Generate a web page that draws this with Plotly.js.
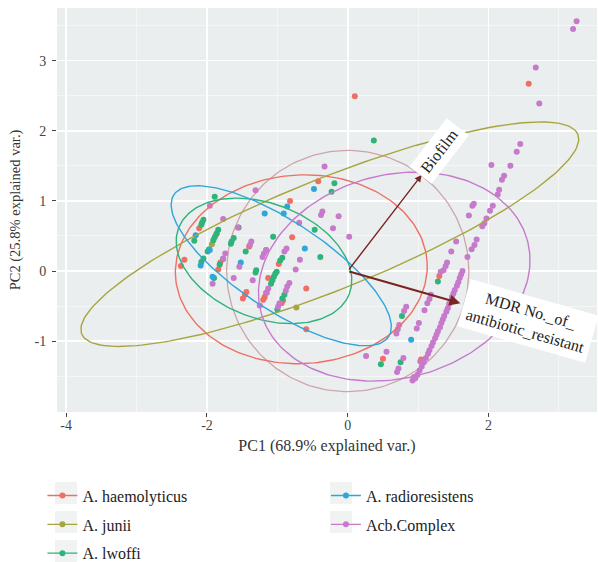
<!DOCTYPE html>
<html><head><meta charset="utf-8">
<script src="https://cdn.plot.ly/plotly-3.0.1.min.js"></script>
<style>html,body{margin:0;padding:0;background:#fff}#chart{width:598px;height:562px}</style>
</head><body><div id="chart"></div>
<script>
// ---- data ----
const groupNames = ['A. haemolyticus','A. junii','A. lwoffi','A. radioresistens','Acb.Complex'];
const groupColors = ['#EE6F63','#A7A53F','#2FB37B','#2EA6DA','#C77ACB'];

const haemX = [0.10,2.57,-0.42,-0.82,-0.79,-0.59,-0.59,-2.11,-1.87,-2.32,-2.37,-1.84,-1.81,-1.40,-0.98,-1.44,-1.46,-1.49,-1.18,-1.20,-1.16,-0.92,-0.94,-1.13,-1.16,1.30,0.50,1.04];
const haemY = [2.49,2.67,1.28,1.00,0.48,-0.25,-0.83,0.61,0.52,0.16,0.07,0.02,0.12,0.35,0.10,-0.30,-0.34,-0.39,-0.37,-0.41,-0.31,-0.42,-0.46,-0.10,0.30,-0.07,-1.25,-1.26];

const juniiX = [-1.93,-0.73];
const juniiY = [0.38,-0.52];

const lwoffiX = [0.37,-0.19,-0.23,-1.89,-2.05,-2.07,-2.08,-1.84,-1.86,-1.89,-1.91,-2.18,-1.97,-1.99,-2.05,-2.08,-1.90,-1.55,-1.62,-1.65,-1.66,-1.45,-1.77,-1.82,-1.30,-1.31,-1.01,-1.03,-1.05,-1.07,-1.09,-1.06,-0.47,-0.39,-0.93,-0.96,-0.90,-0.93,-1.00,1.28,0.77,0.47,0.75];
const lwoffiY = [1.86,1.25,1.13,1.06,0.73,0.69,0.66,0.59,0.54,0.48,0.44,0.43,0.31,0.28,0.18,0.13,-0.10,0.62,0.47,0.42,0.39,0.28,0.17,0.09,0.01,-0.02,-0.01,-0.04,-0.08,-0.13,-0.18,0.49,0.59,0.20,0.19,0.15,-0.34,-0.39,-0.55,-0.15,-0.64,-1.33,-1.30];

const radioX = [-0.48,-1.18,-0.91,-0.86,-0.61,-2.16,-1.52,-1.96,-2.09,0.90,-1.92];
const radioY = [1.17,0.82,0.82,0.92,0.32,0.51,0.12,0.30,0.08,-0.98,-0.08];

const acbX = [3.25,3.20,2.67,2.72,2.45,2.40,2.04,2.31,2.22,2.19,2.15,2.13,1.79,1.77,2.06,2.02,1.72,1.97,1.94,1.91,1.83,1.80,1.76,1.54,1.47,1.70,
  1.41,1.39,1.36,1.32,1.18,1.16,1.13,1.09,1.01,0.98,
  1.63,1.61,1.59,1.57,1.55,1.52,1.50,1.48,1.46,1.44,1.42,1.40,1.37,1.35,1.33,1.31,1.28,1.26,1.24,1.21,1.19,1.16,1.14,1.11,1.08,1.05,1.02,0.99,0.96,
  0.83,0.80,0.73,0.71,0.69,0.55,0.26,0.79,0.72,0.70,1.03,0.94,0.92,
  -0.33,-0.36,-0.38,-0.13,-0.69,-0.21,0.02,-0.87,-0.90,-1.16,-1.19,-1.21,-0.68,-0.74,-0.83,-0.86,-0.88,-1.13,-1.15,-0.97,-0.99,-1.25,
  -1.96,-1.31,-1.77,-1.56,-1.37,-1.39,-1.74,-1.77,-1.54,-1.62,-1.35,-1.92];
const acbY = [3.56,3.45,2.90,2.39,1.81,1.70,1.51,1.50,1.36,1.30,1.16,1.09,0.96,0.93,0.93,0.86,0.79,0.75,0.68,0.64,0.45,0.37,0.31,0.42,0.28,0.20,
  0.12,0.07,0.01,-0.01,-0.34,-0.40,-0.46,-0.56,-0.74,-0.82,
  0.00,-0.05,-0.10,-0.16,-0.21,-0.27,-0.32,-0.37,-0.43,-0.47,-0.53,-0.58,-0.64,-0.69,-0.74,-0.80,-0.86,-0.91,-0.96,-1.02,-1.07,-1.13,-1.18,-1.24,-1.30,-1.36,-1.42,-1.48,-1.53,
  -0.51,-0.57,-0.77,-0.83,-0.89,-1.15,-1.21,-1.24,-1.39,-1.44,-1.29,-1.51,-1.56,
  1.49,0.85,0.80,0.78,0.69,0.61,0.49,0.32,0.28,0.30,0.25,0.20,0.16,0.02,-0.17,-0.22,-0.28,-0.25,-0.31,-0.46,-0.51,-0.49,
  0.93,1.15,0.74,0.62,0.42,0.37,0.25,0.18,0.06,-0.10,-0.13,-0.18];

// ellipse parameters per group (centre, semi-axes, rotation in degrees)
const ellCx = [-0.66,-0.255,-1.19,-0.945,0.66];
const ellCy = [0.025,0.525,0.145,0.075,-0.08];
const ellA  = [1.79,3.80,1.30,1.83,1.96];
const ellB  = [1.345,0.79,0.816,0.63,1.448];
const ellAngle = [3,22,-21.3,-33.6,15.4];
const circleR = 1.72;

// variable loadings (arrows)
const varNames = ['Biofilm','MDR No._of_<br>antibiotic_resistant'];
const varX = [1.05,1.60];
const varY = [1.37,-0.46];
const varLabelX = [1.29,2.56];
const varLabelY = [1.71,-0.71];
const varLabelAngle = [-52.5,16];

// ---- build ----
function ellipsePts(cx, cy, a, b, deg){
  const t = deg*Math.PI/180, xs=[null], ys=[null];
  for(let k=0;k<=200;k++){
    const s = 2*Math.PI*k/200;
    xs.push(cx + a*Math.cos(s)*Math.cos(t) - b*Math.sin(s)*Math.sin(t));
    ys.push(cy + a*Math.cos(s)*Math.sin(t) + b*Math.sin(s)*Math.cos(t));
  }
  return [xs, ys];
}

const SERIF = 'Liberation Serif, Times New Roman, serif';
const ptsX = [haemX, juniiX, lwoffiX, radioX, acbX];
const ptsY = [haemY, juniiY, lwoffiY, radioY, acbY];
const traces = [];

// correlation circle
const circ = ellipsePts(0,0,circleR,circleR,0);
traces.push({x:circ[0], y:circ[1], mode:'lines', line:{color:'#CDA5AA', width:1.3}, showlegend:false, hoverinfo:'skip'});

// points
for(let g=0; g<5; g++){
  traces.push({x:ptsX[g], y:ptsY[g], mode:'markers', type:'scatter', name:groupNames[g],
    marker:{color:groupColors[g], size:6}, showlegend:false, legendgroup:groupNames[g]});
}
// ellipses (carry legend entries)
for(let g=0; g<5; g++){
  const e = ellipsePts(ellCx[g], ellCy[g], ellA[g], ellB[g], ellAngle[g]);
  const mc = e[0].map((v,i)=> i===0 ? groupColors[g] : 'rgba(0,0,0,0)');
  traces.push({x:e[0], y:e[1], mode:'lines+markers', type:'scatter', name:groupNames[g],
    line:{color:groupColors[g], width:1.4}, marker:{color:mc, size:6},
    legendgroup:groupNames[g], legend: g<3 ? 'legend' : 'legend2', hoverinfo:'skip'});
}

const annotations = [];
for(let i=0;i<2;i++){
  annotations.push({x:varX[i], y:varY[i], ax:0, ay:0, xref:'x', yref:'y', axref:'x', ayref:'y',
    showarrow:true, arrowhead:2, arrowsize:1, arrowwidth: i===0?1.4:2.2, arrowcolor:'#7A2424', text:''});
  annotations.push({x:varLabelX[i], y:varLabelY[i], xref:'x', yref:'y', showarrow:false,
    text:varNames[i], textangle:varLabelAngle[i], bgcolor:'#FFFFFF', borderpad:5,
    font:{family:SERIF, size:16, color:'#222'}});
}

// light grey legend key backgrounds (ggplot style), in pixel-derived paper coords
const keyShapes = [];
const keyCols = [66, 341];
const keyRows = [493, 522, 551];
const PW = 540, PH = 404, L = 57, B = 412;
[[0,0],[0,1],[0,2],[1,0],[1,1]].forEach(([c,r])=>{
  keyShapes.push({type:'rect', xref:'paper', yref:'paper', layer:'below',
    x0:(keyCols[c]-11-L)/PW, x1:(keyCols[c]+11-L)/PW,
    y0:(B-(keyRows[r]+11))/PH, y1:(B-(keyRows[r]-11))/PH,
    fillcolor:'#F1F3F3', line:{width:0}});
});

const axisCommon = {showline:false, zeroline:false, gridcolor:'#FFFFFF', gridwidth:1.6,
  ticks:'outside', ticklen:4, tickcolor:'#444', tickwidth:1, automargin:false,
  tickfont:{family:SERIF, size:14, color:'#444'}};

const layout = {
  width:598, height:562,
  margin:{l:57, r:1, t:8, b:150, autoexpand:false},
  paper_bgcolor:'#FFFFFF', plot_bgcolor:'#EAEEEE',
  showlegend:true,
  xaxis:Object.assign({}, axisCommon, {range:[-4.13,3.54], tickvals:[-4,-2,0,2], ticktext:['-4','-2','0','2'],
    ticklabelstandoff:-4,
    minor:{dtick:1, tick0:0, showgrid:true, gridcolor:'#F7F8F8', gridwidth:0.8, ticks:''},
    title:{text:'PC1 (68.9% explained var.)', font:{family:SERIF, size:16, color:'#333'}, standoff:8}}),
  yaxis:Object.assign({}, axisCommon, {range:[-2.01,3.75], tickvals:[-1,0,1,2,3], ticktext:['-1','0','1','2','3'],
    ticklabelstandoff:3,
    minor:{dtick:0.5, tick0:0, showgrid:true, gridcolor:'#F7F8F8', gridwidth:0.8, ticks:''},
    title:{text:'PC2 (25.8% explained var.)', font:{family:SERIF, size:14.5, color:'#333'}, standoff:10}}),
  legend:{x:-0.027, y:-0.165, xanchor:'left', yanchor:'top', orientation:'v', bgcolor:'rgba(0,0,0,0)',
    font:{family:SERIF, size:16, color:'#222'}, tracegroupgap:5},
  legend2:{x:0.498, y:-0.165, xanchor:'left', yanchor:'top', orientation:'v', bgcolor:'rgba(0,0,0,0)',
    font:{family:SERIF, size:16, color:'#222'}, tracegroupgap:5},
  shapes:keyShapes,
  annotations:annotations
};

Plotly.newPlot('chart', traces, layout, {displayModeBar:false, staticPlot:true});
</script>
</body></html>
